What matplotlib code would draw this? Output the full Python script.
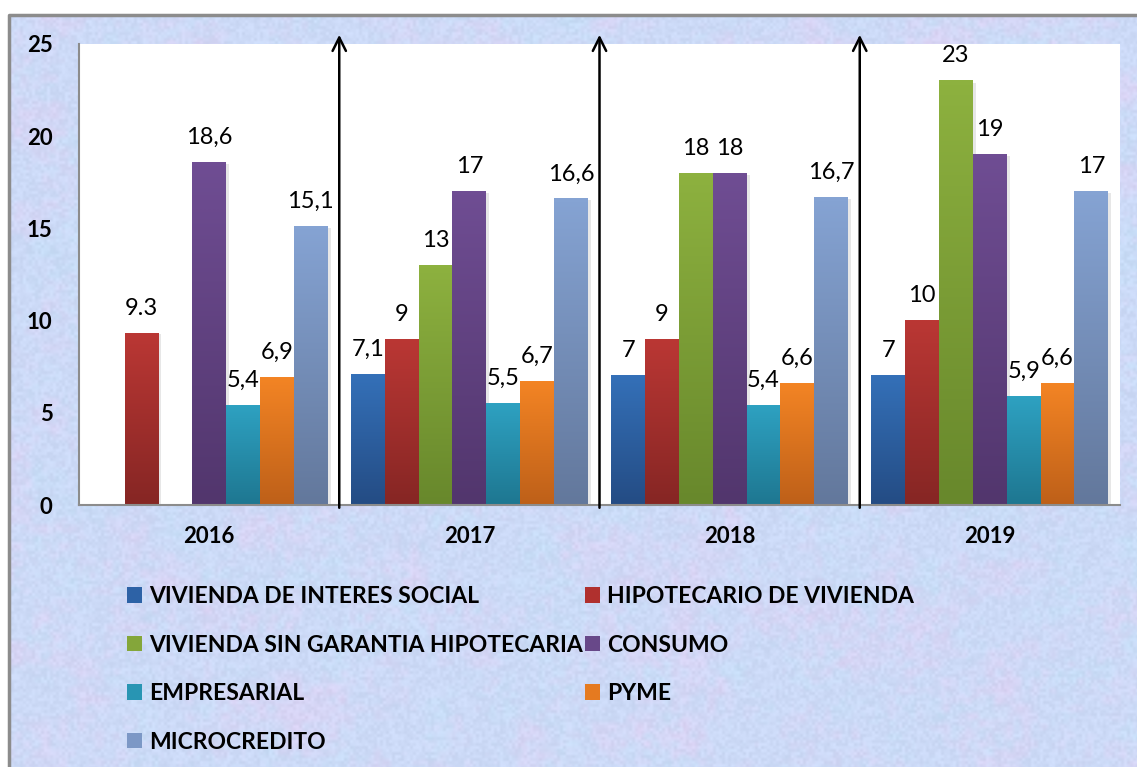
import numpy as np
import matplotlib.pyplot as plt
from matplotlib.colors import LinearSegmentedColormap
from matplotlib.patches import Patch, Rectangle

plt.rcParams['font.family'] = ['Lato', 'DejaVu Sans']

# colocación de cartera por modalidad (%)
years = ['2016', '2017', '2018', '2019']
series = ['VIVIENDA DE INTERES SOCIAL', 'HIPOTECARIO DE VIVIENDA',
          'VIVIENDA SIN GARANTIA HIPOTECARIA', 'CONSUMO',
          'EMPRESARIAL', 'PYME', 'MICROCREDITO']
vis = [None, 7.1, 7, 7]
hipotecario = [9.3, 9, 9, 10]
sin_garantia = [None, 13, 18, 23]
consumo = [18.6, 17, 18, 19]
empresarial = [5.4, 5.5, 5.4, 5.9]
pyme = [6.9, 6.7, 6.6, 6.6]
microcredito = [15.1, 16.6, 16.7, 17]
values = [vis, hipotecario, sin_garantia, consumo, empresarial, pyme, microcredito]

# la etiqueta de 2016 de hipotecario lleva punto decimal
label_override = {(1, 0): '9.3'}

top_colors = ['#3470B8', '#BA3734', '#8DB13F', '#6F4D93', '#2EA1C1', '#F38424', '#85A3D3']
bottom_colors = ['#244C84', '#862624', '#68882C', '#52366D', '#1E7791', '#BE6019', '#63789C']
legend_colors = ['#2D62A6', '#B0302E', '#84A63A', '#684889', '#2895B3', '#E57A20', '#7C98C6']


def fmt(v):
    s = ('%g' % v)
    return s.replace('.', ',')


def value_noise(h, w, cell, seed):
    gh, gw = h // cell + 2, w // cell + 2
    jj, ii = np.meshgrid(np.arange(gw), np.arange(gh))
    grid = np.sin(ii * 12.9898 + jj * 78.233 + seed * 37.719) * 43758.5453
    grid = grid - np.floor(grid)
    gy = np.arange(h) / cell
    gx = np.arange(w) / cell
    iy = np.floor(gy).astype(int)
    ix = np.floor(gx).astype(int)
    fy = gy - iy
    fx = gx - ix
    fy = fy * fy * (3 - 2 * fy)
    fx = fx * fx * (3 - 2 * fx)
    v00 = grid[iy][:, ix]
    v01 = grid[iy][:, ix + 1]
    v10 = grid[iy + 1][:, ix]
    v11 = grid[iy + 1][:, ix + 1]
    top = v00 * (1 - fx) + v01 * fx
    bot = v10 * (1 - fx) + v11 * fx
    return top * (1 - fy[:, None]) + bot * fy[:, None]


fig = plt.figure(figsize=(11.37, 7.67), dpi=100)
W, H = 1137, 767

# fondo con textura pastel
bg = fig.add_axes([9 / W, 0, 1 - 9 / W, (H - 15) / H], zorder=0)
th, tw = 752, 1128
pink = 0.6 * value_noise(th, tw, 40, 1) + 0.4 * value_noise(th, tw, 9, 2)
cyan = 0.6 * value_noise(th, tw, 33, 3) + 0.4 * value_noise(th, tw, 7, 4)
grain = value_noise(th, tw, 3, 5)
base = np.array([204, 218, 247]) / 255
pink_c = np.array([222, 210, 244]) / 255
cyan_c = np.array([192, 228, 248]) / 255
wp = np.clip((pink - 0.45) * 1.6, 0, 1)[..., None]
wc = np.clip((cyan - 0.5) * 1.6, 0, 1)[..., None]
tex = base * (1 - wp) + pink_c * wp
tex = tex * (1 - wc * 0.6) + cyan_c * wc * 0.6
tex = tex + (grain[..., None] - 0.5) * 0.05
bg.imshow(np.clip(tex, 0, 1), aspect='auto', extent=[0, 1, 0, 1], interpolation='bilinear')
bg.set_xlim(0, 1)
bg.set_ylim(0, 1)
bg.axis('off')
# marco gris solo arriba y a la izquierda
bg.plot([0, 0, 1], [0, 1, 1], color='#8c8c8c', lw=2.5, transform=bg.transAxes,
        clip_on=False, solid_capstyle='butt')

ax = fig.add_axes([79 / W, (H - 505) / H, (1120 - 79) / W, (505 - 44) / H], zorder=1)
ax.set_facecolor('white')

x = np.arange(len(years))
width = 0.13
for i, (vals, name) in enumerate(zip(values, series)):
    offset = (i - 3) * width
    heights = [v if v is not None else 0 for v in vals]
    bars = ax.bar(x + offset, heights, width, color=top_colors[i], label=name, zorder=2)
    cmap = LinearSegmentedColormap.from_list('g%d' % i, [bottom_colors[i], top_colors[i]])
    grad = np.linspace(1, 0, 64)[:, None]
    for j, (b, v) in enumerate(zip(bars, vals)):
        if v is None:
            b.set_visible(False)
            continue
        bx, bw, bh = b.get_x(), b.get_width(), b.get_height()
        # sombra suave a la derecha
        ax.add_patch(Rectangle((bx + bw, 0), 0.012, bh * 0.995, color='#d8d8d8',
                               alpha=0.6, lw=0, zorder=1.5))
        ax.imshow(grad, extent=[bx, bx + bw, 0, bh], aspect='auto', cmap=cmap,
                  vmin=0, vmax=1, zorder=2.5, interpolation='bilinear')
        txt = label_override.get((i, j), fmt(v))
        ax.annotate(txt, (bx + bw / 2, bh), xytext=(0, 18), textcoords='offset points',
                    ha='center', va='center', fontsize=17, color='black', zorder=4)

# flechas entre años
for k in range(len(years) - 1):
    ax.annotate('', xy=(k + 0.5, 25.5), xytext=(k + 0.5, -0.15),
                arrowprops=dict(arrowstyle='->', lw=1.8, color='black', mutation_scale=24,
                                shrinkA=0, shrinkB=0),
                annotation_clip=False, zorder=5)

ax.set_xlim(-0.5, 3.5)
ax.set_ylim(0, 25)
ax.set_yticks(range(0, 26, 5))
ax.set_xticks(x)
ax.set_xticklabels(years)
ax.tick_params(axis='y', length=0, pad=19, labelsize=16)
ax.tick_params(axis='x', length=0, pad=15, labelsize=16)
for lbl in ax.get_xticklabels() + ax.get_yticklabels():
    lbl.set_fontweight('bold')
for side in ['top', 'right']:
    ax.spines[side].set_visible(False)
for side in ['left', 'bottom']:
    ax.spines[side].set_color('#8c8c8c')
    ax.spines[side].set_linewidth(1.5)

# leyenda en dos columnas, ordenada por filas
handles = [Patch(facecolor=c, edgecolor='none') for c in legend_colors]
order = [0, 2, 4, 6, 1, 3, 5]
leg = fig.legend([handles[o] for o in order], [series[o] for o in order],
                 ncol=2, loc='upper left', bbox_to_anchor=(118 / W, 1 - 577 / H),
                 frameon=False, prop={'weight': 'bold', 'size': 16.5},
                 handlelength=0.65, handleheight=0.65, handletextpad=0.3,
                 labelspacing=1.2, columnspacing=0.1, borderaxespad=0)

fig.savefig('out.png', dpi=100)
